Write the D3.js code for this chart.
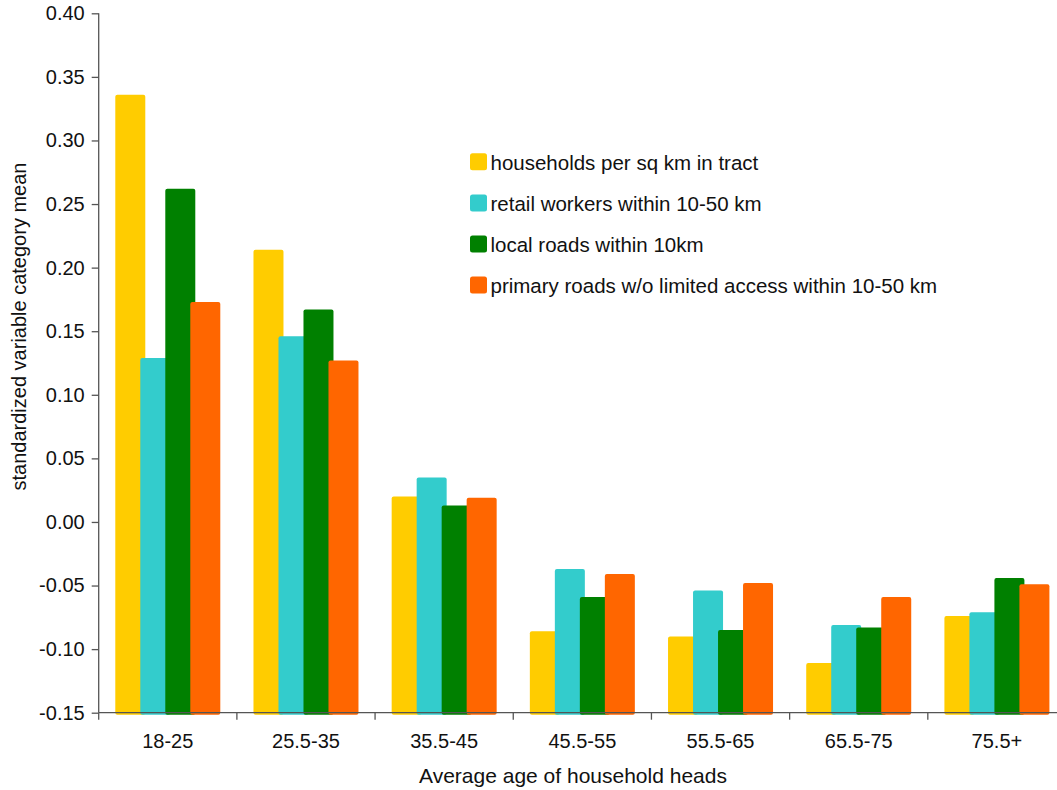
<!DOCTYPE html>
<html>
<head>
<meta charset="utf-8">
<script src="https://cdn.jsdelivr.net/npm/d3@7"></script>
<style>
  html, body { margin: 0; padding: 0; background: #fff; }
  svg { display: block; font-family: "Liberation Sans", Arial, sans-serif; }
</style>
</head>
<body>
<svg id="chart" width="1057" height="790"></svg>
<script>
const categories = ["18-25", "25.5-35", "35.5-45", "45.5-55", "55.5-65", "65.5-75", "75.5+"];
const seriesNames = [
  "households per sq km in tract",
  "retail workers within 10-50 km",
  "local roads within 10km",
  "primary roads w/o limited access within 10-50 km"
];
const households = [0.336, 0.214, 0.020, -0.086, -0.090, -0.111, -0.074];
const retail     = [0.129, 0.146, 0.035, -0.037, -0.054, -0.081, -0.071];
const localRoads = [0.262, 0.167, 0.013, -0.059, -0.085, -0.083, -0.044];
const primary    = [0.173, 0.127, 0.019, -0.041, -0.048, -0.059, -0.049];
const seriesValues = [households, retail, localRoads, primary];
const colors = ["#FFCC00", "#33CCCC", "#008000", "#FF6600"];
const yTicks = [0.40, 0.35, 0.30, 0.25, 0.20, 0.15, 0.10, 0.05, 0.00, -0.05, -0.10, -0.15];

const svg = d3.select("#chart");
const plotLeft = 98.7, plotRight = 1066, plotTop = 13.3, plotBottom = 712.7;

const y = d3.scaleLinear().domain([-0.15, 0.40]).range([plotBottom, plotTop]);
const x = d3.scaleBand().domain(categories).range([plotLeft, plotRight]).paddingInner(0).paddingOuter(0);
const sub = d3.scaleBand().domain(d3.range(seriesNames.length)).range([0, 100]);
const barW = 30;
const offset = (x.bandwidth() - (sub.step() * 3 + barW)) / 2;

const fontSize = 20;
const axisColor = "#555";

// bars
seriesValues.forEach((vals, si) => {
  svg.append("g").selectAll("rect")
    .data(vals.map((v, i) => ({ v, c: categories[i] })))
    .join("rect")
    .attr("x", d => x(d.c) + offset + sub(si))
    .attr("width", barW)
    .attr("y", d => y(d.v))
    .attr("height", d => y(-0.15) - y(d.v) + 2)
    .attr("rx", 2)
    .attr("fill", colors[si]);
});

// y axis
const yAxis = d3.axisLeft(y).tickValues(yTicks).tickSize(7).tickPadding(7);
const gy = svg.append("g").attr("transform", `translate(${plotLeft},0)`).call(yAxis);
gy.select(".domain").attr("stroke", axisColor).attr("stroke-width", 1.3).attr("d", `M0,${plotTop}V${plotBottom}`);
gy.selectAll(".tick line").attr("stroke", axisColor).attr("stroke-width", 1.3);
gy.selectAll(".tick text").attr("font-size", fontSize).attr("fill", "#111")
  .attr("font-family", "Liberation Sans, Arial, sans-serif")
  .text(d => d < 0 ? "-" + d3.format(".2f")(-d) : d3.format(".2f")(Math.abs(d)));

// x axis line
svg.append("line").attr("x1", plotLeft).attr("x2", 1057).attr("y1", plotBottom).attr("y2", plotBottom)
  .attr("stroke", axisColor).attr("stroke-width", 1.3);
// ticks between categories
const boundaries = categories.map(c => x(c)).concat([plotRight]);
svg.append("g").selectAll("line").data(boundaries).join("line")
  .attr("x1", d => d).attr("x2", d => d)
  .attr("y1", plotBottom).attr("y2", plotBottom + 7)
  .attr("stroke", axisColor).attr("stroke-width", 1.3);
svg.append("g").selectAll("text").data(categories).join("text")
  .attr("x", d => x(d) + x.bandwidth() / 2)
  .attr("y", 748)
  .attr("text-anchor", "middle")
  .attr("font-size", fontSize)
  .attr("fill", "#111")
  .text(d => d);

// axis titles
svg.append("text")
  .attr("x", 573).attr("y", 783)
  .attr("text-anchor", "middle")
  .attr("font-size", 21)
  .attr("fill", "#111")
  .text("Average age of household heads");
svg.append("text")
  .attr("transform", `translate(25.5,326.5) rotate(-90)`)
  .attr("text-anchor", "middle")
  .attr("font-size", fontSize)
  .attr("fill", "#111")
  .text("standardized variable category mean");

// legend
const lg = svg.append("g");
seriesNames.forEach((name, i) => {
  const ty = 153.3 + i * 41.1;
  lg.append("rect").attr("x", 470).attr("y", ty).attr("width", 17).attr("height", 17)
    .attr("rx", 2.5).attr("fill", colors[i]);
  lg.append("text").attr("x", 490.5).attr("y", ty + 16.5)
    .attr("font-size", 20.5).attr("fill", "#111").text(name);
});
</script>
</body>
</html>
